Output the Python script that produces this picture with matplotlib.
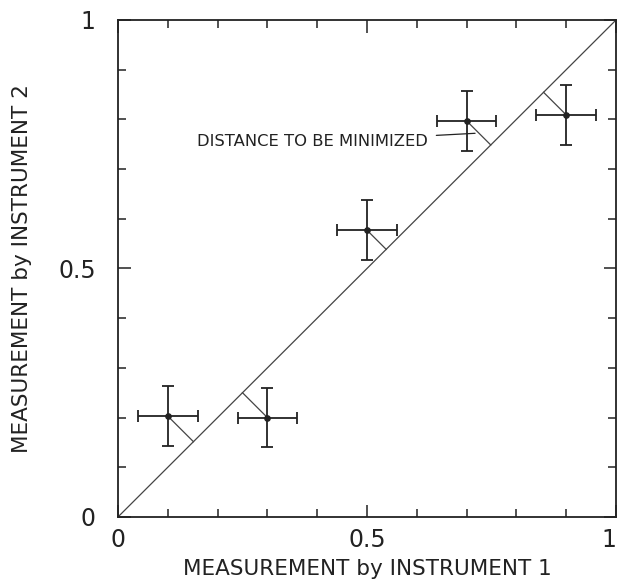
import numpy as np
import matplotlib
matplotlib.use("Agg")
import matplotlib.pyplot as plt
from matplotlib.ticker import MultipleLocator

plt.rcParams['font.family'] = ['DejaVu Sans']

x_meas = [0.10, 0.30, 0.50, 0.70, 0.90]
y_meas = [0.203, 0.200, 0.577, 0.797, 0.809]
x_err = [0.06, 0.06, 0.06, 0.06, 0.06]
y_err = [0.06, 0.06, 0.06, 0.06, 0.06]

note_text = "DISTANCE TO BE MINIMIZED"
note_xy = (0.717, 0.772)
note_text_xy = (0.6225, 0.7545)

fig = plt.figure(figsize=(6.19, 5.81), dpi=100)
ax = fig.add_axes([0.1906, 0.1102, 0.8046, 0.8554])

ink = '#222222'

# identity line
ax.plot([0, 1], [0, 1], color='#444444', lw=0.9)

# perpendicular from each point to the line y = x
for xi, yi in zip(x_meas, y_meas):
    foot = (xi + yi) / 2
    ax.plot([xi, foot], [yi, foot], color='#444444', lw=0.9)

ax.errorbar(x_meas, y_meas, xerr=x_err, yerr=y_err, fmt='o', color=ink,
            ms=3.8, elinewidth=1.3, capsize=4.5, capthick=1.3)

ax.annotate(note_text, xy=note_xy, xytext=note_text_xy, fontsize=11.8,
            ha='right', va='center', color=ink,
            arrowprops=dict(arrowstyle='-', color=ink, lw=0.9,
                            shrinkA=4, shrinkB=0))

ax.set_xlim(0, 1)
ax.set_ylim(0, 1)
ax.xaxis.set_major_locator(MultipleLocator(0.5))
ax.yaxis.set_major_locator(MultipleLocator(0.5))
ax.xaxis.set_minor_locator(MultipleLocator(0.1))
ax.yaxis.set_minor_locator(MultipleLocator(0.1))
ax.set_xticklabels([], minor=True)
ax.set_yticklabels([], minor=True)
ax.xaxis.set_major_formatter(plt.FuncFormatter(lambda v, p: f"{v:g}"))
ax.yaxis.set_major_formatter(plt.FuncFormatter(lambda v, p: f"{v:g}"))

ax.tick_params(which='both', direction='in', top=True, right=True,
               color=ink, width=1.1, labelsize=17, labelcolor=ink)
ax.tick_params(which='major', length=9)
ax.tick_params(which='minor', length=6)
ax.tick_params(axis='x', which='major', pad=8)
ax.tick_params(axis='y', which='major', pad=16)

for s in ax.spines.values():
    s.set_color(ink)
    s.set_linewidth(1.3)

ax.set_xlabel("MEASUREMENT by INSTRUMENT 1", fontsize=15.5, color=ink, labelpad=5)
ax.set_ylabel("MEASUREMENT by INSTRUMENT 2", fontsize=15.5, color=ink, labelpad=19)

# keep the last x tick label inside the canvas
fig.canvas.draw()
for lbl in ax.get_xticklabels():
    if lbl.get_text() == "1":
        lbl.set_horizontalalignment("right")

fig.savefig("out.png", dpi=100)
